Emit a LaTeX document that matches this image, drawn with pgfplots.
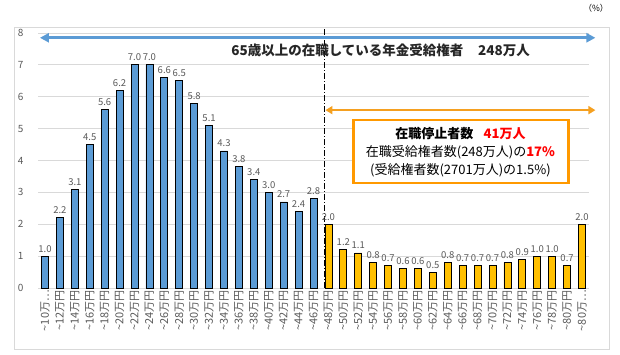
\documentclass[border=0pt]{standalone}
\usepackage{fontspec}
\setmainfont{Noto Sans CJK JP}
\usepackage{pgfplots}
\pgfplotsset{compat=1.18}
\usetikzlibrary{arrows.meta}
\definecolor{barblue}{HTML}{5B9BD5}
\definecolor{barorange}{HTML}{FFC000}
\definecolor{arrorange}{HTML}{F5A020}
\definecolor{boxorange}{HTML}{FF9900}
\definecolor{txtgrey}{HTML}{595959}
\definecolor{gridgrey}{HTML}{D9D9D9}
\begin{document}
\begin{tikzpicture}
\path[use as bounding box] (0,0) rectangle (620pt,355pt);
\draw[gridgrey, line width=0.8pt] (14pt,6pt) rectangle (609pt,328pt);
\node[font=\fontsize{8.5}{9}\selectfont, text=black] at (596pt,347pt) {（\%）};
\begin{axis}[
  at={(38pt,67pt)}, anchor=south west,
  scale only axis, width=551pt, height=255pt,
  xmin=-0.47, xmax=36.47, ymin=0, ymax=8,
  ytick={0,1,...,8},
  xtick={0,1,...,36},
  xticklabels={\textasciitilde10万…,\textasciitilde12万円,\textasciitilde14万円,\textasciitilde16万円,\textasciitilde18万円,\textasciitilde20万円,\textasciitilde22万円,\textasciitilde24万円,\textasciitilde26万円,\textasciitilde28万円,\textasciitilde30万円,\textasciitilde32万円,\textasciitilde34万円,\textasciitilde36万円,\textasciitilde38万円,\textasciitilde40万円,\textasciitilde42万円,\textasciitilde44万円,\textasciitilde46万円,\textasciitilde48万円,\textasciitilde50万円,\textasciitilde52万円,\textasciitilde54万円,\textasciitilde56万円,\textasciitilde58万円,\textasciitilde60万円,\textasciitilde62万円,\textasciitilde64万円,\textasciitilde66万円,\textasciitilde68万円,\textasciitilde70万円,\textasciitilde72万円,\textasciitilde74万円,\textasciitilde76万円,\textasciitilde78万円,\textasciitilde80万円,\textasciitilde80万…},
  xticklabel style={rotate=90, anchor=east, font=\fontsize{11}{12}\selectfont, text=txtgrey, inner sep=2pt},
  yticklabel style={anchor=east, font=\fontsize{10}{11}\selectfont, text=txtgrey, xshift=-11pt},
  major tick length=0pt,
  axis line style={draw=none},
  ymajorgrids, grid style={gridgrey, line width=0.8pt},
  /pgf/number format/assume math mode=true,
  ybar, bar width=7pt,
  nodes near coords,
  every node near coord/.append style={font=\fontsize{9.5}{10}\selectfont, text=txtgrey, /pgf/number format/fixed, /pgf/number format/fixed zerofill, /pgf/number format/precision=1, inner sep=2pt, yshift=1.5pt},
  clip=false,
]
\addplot[bar shift=0pt, draw=black, fill=barblue, line width=0.8pt] coordinates {
(0,1.0) (1,2.2) (2,3.1) (3,4.5) (4,5.6) (5,6.2) (6,7.0) (7,7.0) (8,6.6) (9,6.5)
(10,5.8) (11,5.1) (12,4.3) (13,3.8) (14,3.4) (15,3.0) (16,2.7) (17,2.4) (18,2.8)};
\addplot[bar shift=0pt, draw=black, fill=barorange, line width=0.8pt] coordinates {
(19,2.0) (20,1.2) (21,1.1) (22,0.8) (23,0.7) (24,0.6) (25,0.6) (26,0.5) (27,0.8)
(28,0.7) (29,0.7) (30,0.7) (31,0.8) (32,0.9) (33,1.0) (34,1.0) (35,0.7) (36,2.0)};
\draw[black, line width=0.8pt, dash pattern=on 6pt off 2pt on 1pt off 2pt] (axis cs:18.72,0) -- (axis cs:18.72,8.16);
\draw[barblue, line width=3pt, {Triangle[length=9pt,width=9pt]}-{Triangle[length=9pt,width=9pt]}] (axis cs:-0.34,7.85) -- (axis cs:36.9,7.85);
\node[font=\fontsize{13.5}{15}\selectfont\bfseries, text=black!85] at (axis cs:22.5,7.47) {65歳以上の在職している年金受給権者\hspace{1.1em}248万人};
\draw[arrorange, line width=2pt, {Triangle[length=7pt,width=8pt]}-{Triangle[length=7pt,width=8pt]}] (axis cs:18.8,5.58) -- (axis cs:36.9,5.58);
\draw[boxorange, line width=2.5pt, fill=white] (axis cs:20.67,5.27) rectangle (axis cs:35.1,3.29);
\node[font=\fontsize{13}{14}\selectfont\bfseries, text=black] at (axis cs:27.85,4.86) {在職停止者数\hspace{0.8em}\textcolor{red}{41万人}};
\node[font=\fontsize{13}{14}\selectfont, text=black] at (axis cs:27.85,4.27) {在職受給権者数(248万人)の\textcolor{red}{\bfseries 17\%}};
\node[font=\fontsize{13}{14}\selectfont, text=black] at (axis cs:27.85,3.70) {(受給権者数(2701万人)の1.5\%)};
\end{axis}
\end{tikzpicture}
\end{document}
